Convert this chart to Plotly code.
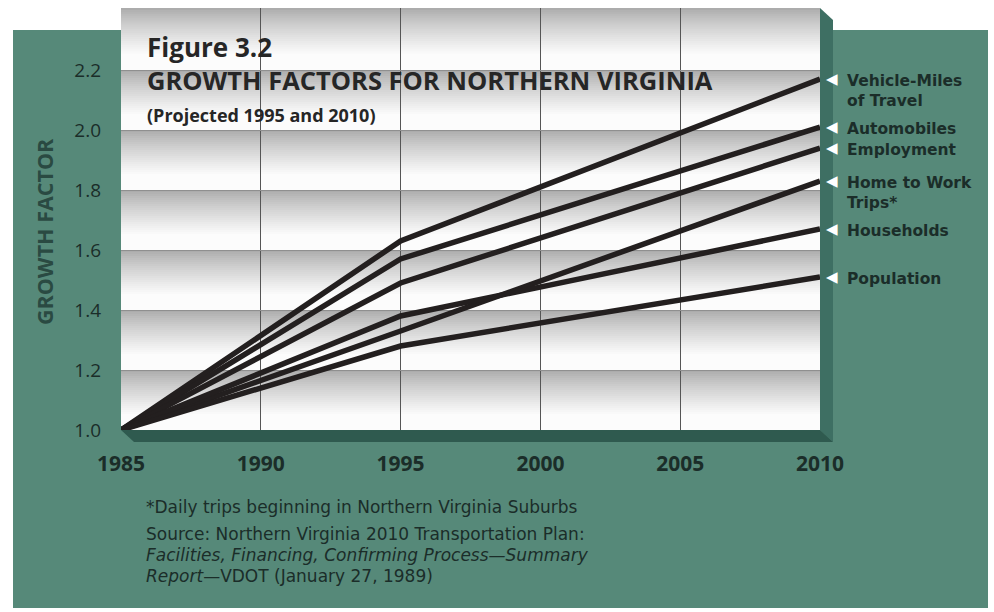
import plotly.graph_objects as go

# ---- data -------------------------------------------------------------
years = [1985, 1995, 2010]
vehicle_miles = [1.0, 1.63, 2.17]
automobiles = [1.0, 1.57, 2.01]
employment = [1.0, 1.49, 1.94]
home_to_work = [1.0, 1.33, 1.83]
households = [1.0, 1.38, 1.67]
population = [1.0, 1.28, 1.51]

series_labels = [["Vehicle-Miles", "of Travel"], ["Automobiles"], ["Employment"],
                 ["Home to Work", "Trips*"], ["Households"], ["Population"]]
series_values = [vehicle_miles, automobiles, employment,
                 home_to_work, households, population]

x_ticks = [1985, 1990, 1995, 2000, 2005, 2010]
y_ticks = [1.0, 1.2, 1.4, 1.6, 1.8, 2.0, 2.2]

# ---- page geometry (pixels) ------------------------------------------
W, H = 994, 612
PL, PR, PT, PB = 121, 820, 8, 430          # plot rectangle
DX, DY = 13, 12                             # depth of the extruded edge
Y_MIN = 1.0
Y_MAX = 1.0 + (PB - PT) / 300.0             # 0.2 per 60 px

TEAL = "#568979"
TEAL_SIDE = "#3e6f63"
TEAL_BOTTOM = "#2f5a4f"
INK = "#1b2d29"
FONT = "Open Sans"
TEXT_FONT = "DejaVu Sans"


def fx(px):
    return px / W


def fy(py):
    return 1 - py / H


def poly(points):
    return "M " + " L ".join(f"{fx(a):.5f},{fy(b):.5f}" for a, b in points) + " Z"


shapes = []

# teal backing panel
shapes.append(dict(type="rect", xref="paper", yref="paper", layer="below",
                   x0=fx(13), x1=fx(988), y0=fy(608), y1=fy(30),
                   fillcolor=TEAL, line=dict(width=0)))
# extruded right face and bottom face of the chart slab
shapes.append(dict(type="path", xref="paper", yref="paper", layer="below",
                   path=poly([(PR, PT), (PR + DX, PT + DY), (PR + DX, PB + DY), (PR, PB)]),
                   fillcolor=TEAL_SIDE, line=dict(width=0)))
shapes.append(dict(type="path", xref="paper", yref="paper", layer="below",
                   path=poly([(PL, PB), (PL + DX, PB + DY), (PR + DX, PB + DY), (PR, PB)]),
                   fillcolor=TEAL_BOTTOM, line=dict(width=0)))


# shaded bands: grey at the top of each band fading to white
def band_color(t):
    # t = 0 at top of band, 1 at bottom
    g0, g1 = 168, 252
    k = min(t / 0.75, 1.0)
    g = int(round(g0 + (g1 - g0) * (k ** 0.8)))
    return f"rgb({g},{g},{g})"


band_edges = y_ticks + [Y_MAX]
STRIPS = 30
for lo, hi in zip(band_edges[:-1], band_edges[1:]):
    h = (hi - lo) / STRIPS
    # each strip reaches down to the band floor so the next one overlaps it
    for i in range(STRIPS):
        top = hi - i * h
        shapes.append(dict(type="rect", xref="x", yref="y", layer="below",
                           x0=x_ticks[0], x1=x_ticks[-1], y0=lo, y1=top,
                           fillcolor=band_color((i + 0.5) / STRIPS),
                           line=dict(width=0)))

fig = go.Figure()

for lines, vals in zip(series_labels, series_values):
    fig.add_trace(go.Scatter(x=years, y=vals, mode="lines", name=" ".join(lines),
                             line=dict(color="#231f1f", width=5.5),
                             showlegend=False, hoverinfo="skip"))

annotations = []
# end labels with white pointers
LABEL_LEADING = 20
for lines, vals in zip(series_labels, series_values):
    annotations.append(dict(x=years[-1], y=vals[-1], xref="x", yref="y",
                            text="◀", showarrow=False, xanchor="left",
                            yanchor="middle", xshift=4,
                            font=dict(family="DejaVu Sans", size=15, color="white")))
    for k, line in enumerate(lines):
        annotations.append(dict(x=years[-1], y=vals[-1], xref="x", yref="y",
                                text=f"<b>{line}</b>", showarrow=False,
                                xanchor="left", yanchor="middle", align="left",
                                xshift=26, yshift=-2 - k * LABEL_LEADING,
                                borderpad=0,
                                font=dict(family=TEXT_FONT, size=15.5, color=INK)))

# titles
annotations += [
    dict(x=fx(145), y=fy(47), xref="paper", yref="paper", xanchor="left",
         yanchor="middle", showarrow=False, text="<b>Figure 3.2</b>",
         font=dict(family=FONT, size=26, color="#262626", weight=800)),
    dict(x=fx(145), y=fy(80), xref="paper", yref="paper", xanchor="left",
         yanchor="middle", showarrow=False,
         text="<b>GROWTH FACTORS FOR NORTHERN VIRGINIA</b>",
         font=dict(family=FONT, size=25.5, color="#262626", weight=800)),
    dict(x=fx(145), y=fy(115), xref="paper", yref="paper", xanchor="left",
         yanchor="middle", showarrow=False, text="<b>(Projected 1995 and 2010)</b>",
         font=dict(family=FONT, size=18, color="#262626")),
    dict(x=fx(44), y=fy(232), xref="paper", yref="paper", xanchor="center",
         yanchor="middle", showarrow=False, text="<b>GROWTH FACTOR</b>",
         textangle=-90, font=dict(family=FONT, size=21.5, color="#2a4a42")),
]

# footnotes
foot_lines = [
    (507, "*Daily trips beginning in Northern Virginia Suburbs"),
    (534, "Source: Northern Virginia 2010 Transportation Plan:"),
    (555, "<i>Facilities, Financing, Confirming Process—Summary</i>"),
    (576, "<i>Report</i>—VDOT (January 27, 1989)"),
]
for py, txt in foot_lines:
    annotations.append(dict(x=fx(145), y=fy(py), xref="paper", yref="paper",
                            xanchor="left", yanchor="middle", showarrow=False,
                            borderpad=0,
                            text=txt, font=dict(family=TEXT_FONT, size=17, color=INK)))

fig.update_layout(
    width=W, height=H,
    margin=dict(l=0, r=0, t=0, b=0, pad=0),
    paper_bgcolor="white",
    plot_bgcolor="white",
    shapes=shapes,
    annotations=annotations,
    xaxis=dict(domain=[fx(PL), fx(PR)], range=[x_ticks[0], x_ticks[-1]],
               tickvals=x_ticks, ticktext=[f"<b>{t}</b>" for t in x_ticks],
               showgrid=True, gridcolor="#555555", gridwidth=1,
               zeroline=False, showline=False, ticks="", automargin=False,
               ticklabelstandoff=19,
               tickfont=dict(family=FONT, size=21, color=INK)),
    yaxis=dict(domain=[fy(PB), fy(PT)], range=[Y_MIN, Y_MAX],
               tickvals=y_ticks, ticktext=[f"{t:.1f}" for t in y_ticks],
               showgrid=True, gridcolor="#8f8f8f", gridwidth=1,
               zeroline=False, showline=False, ticks="", automargin=False,
               ticklabelstandoff=19,
               tickfont=dict(family=FONT, size=19, color=INK)),
)

fig.write_html("out.html")
